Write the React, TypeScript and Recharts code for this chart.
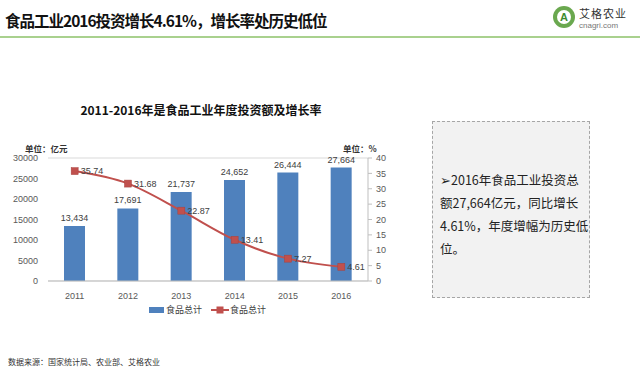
import React from 'react'
import {
  ComposedChart, Bar, Line, XAxis, YAxis, CartesianGrid, LabelList
} from 'recharts'

const YEARS = ['2011', '2012', '2013', '2014', '2015', '2016']
const INVEST = [13434, 17691, 21737, 24652, 26444, 27664]
const GROWTH = [35.74, 31.68, 22.87, 13.41, 7.27, 4.61]
const LEFT_TICKS = [0, 5000, 10000, 15000, 20000, 25000, 30000]
const RIGHT_TICKS = [0, 5, 10, 15, 20, 25, 30, 35, 40]
const NOTE_LINES = ['➢2016年食品工业投资总', '额27,664亿元，同比增长', '4.61%，年度增幅为历史低', '位。']

const BAR_COLOR = '#4f81bd'
const LINE_COLOR = '#c0504d'
const CJK = '"Noto Sans CJK SC", "Noto Sans", sans-serif'
const NUM = '"Liberation Sans", Arial, sans-serif'

const data = YEARS.map((y, i) => ({ year: y, invest: INVEST[i], growth: GROWTH[i] }))

const fmt = (v: number) => v.toLocaleString('en-US')

function SquareDot(props: any) {
  const { cx, cy } = props
  if (cx == null || cy == null) return null
  return <rect x={cx - 3.5} y={cy - 3.5} width={7} height={7} fill={LINE_COLOR} stroke="#a8423f" strokeWidth={0.5} />
}

export default function App() {
  const tick = { fontSize: 9, fill: '#595959', fontFamily: NUM }
  return (
    <div style={{ position: 'absolute', left: 0, top: 0, width: 640, height: 369, background: '#fff', overflow: 'hidden' }}>
      {/* header */}
      <div style={{ position: 'absolute', left: 5, top: 9, fontFamily: CJK, fontWeight: 700, fontSize: 15.5, color: '#111', whiteSpace: 'nowrap', letterSpacing: -1 }}>
        食品工业2016投资增长4.61%，增长率处历史低位
      </div>
      <div style={{ position: 'absolute', left: 0, top: 36, width: 640, height: 2, background: '#a9d18e' }} />
      {/* logo */}
      <div style={{ position: 'absolute', left: 553, top: 6, width: 22, height: 22, borderRadius: 11, background: '#6aa84f' }} />
      <div style={{ position: 'absolute', left: 557, top: 10, width: 14, height: 14, borderRadius: 7, background: '#fff', fontFamily: NUM, fontWeight: 700, fontSize: 11, color: '#3d8b2f', textAlign: 'center', lineHeight: '14px' }}>A</div>
      <div style={{ position: 'absolute', left: 579, top: 5, fontFamily: CJK, fontSize: 11, color: '#333', whiteSpace: 'nowrap', letterSpacing: 1 }}>艾格农业</div>
      <div style={{ position: 'absolute', left: 579, top: 21, fontFamily: NUM, fontSize: 8, color: '#777', whiteSpace: 'nowrap' }}>cnagri.com</div>

      {/* chart title */}
      <div style={{ position: 'absolute', left: 0, top: 101, width: 402, textAlign: 'center', fontFamily: CJK, fontWeight: 700, fontSize: 12, color: '#111', whiteSpace: 'nowrap' }}>
        2011-2016年是食品工业年度投资额及增长率
      </div>
      <div style={{ position: 'absolute', left: 25, top: 142, fontFamily: CJK, fontWeight: 700, fontSize: 8.5, color: '#333', whiteSpace: 'nowrap' }}>单位：亿元</div>
      <div style={{ position: 'absolute', left: 343, top: 142, fontFamily: CJK, fontWeight: 700, fontSize: 8.5, color: '#333', whiteSpace: 'nowrap' }}>单位：%</div>

      <div style={{ position: 'absolute', left: 0, top: 0 }}>
        <ComposedChart width={420} height={300} data={data} margin={{ top: 158, right: 22, bottom: 0, left: 8 }}>
          <CartesianGrid vertical={false} stroke="#d9d9d9" />
          <XAxis dataKey="year" height={19} tick={tick} tickLine={false} axisLine={{ stroke: '#bfbfbf' }} tickMargin={6} />
          <YAxis yAxisId="l" width={40} domain={[0, 30000]} ticks={LEFT_TICKS} tick={tick} axisLine={false} tickLine={false} tickMargin={4} />
          <YAxis yAxisId="r" orientation="right" width={30} domain={[0, 40]} ticks={RIGHT_TICKS} tick={tick} axisLine={{ stroke: '#bfbfbf' }} tickLine={{ stroke: '#bfbfbf' }} tickSize={4} tickMargin={4} />
          <Bar yAxisId="l" dataKey="invest" fill={BAR_COLOR} barSize={21} isAnimationActive={false}>
            <LabelList dataKey="invest" position="top" offset={5} formatter={(v: any) => fmt(Number(v))} style={{ fontSize: 9, fill: '#404040', fontFamily: NUM }} />
          </Bar>
          <Line yAxisId="r" dataKey="growth" type="monotone" stroke={LINE_COLOR} strokeWidth={2} dot={<SquareDot />} activeDot={false} isAnimationActive={false}>
            <LabelList dataKey="growth" position="right" offset={6} style={{ fontSize: 9, fill: '#404040', fontFamily: NUM }} />
          </Line>
        </ComposedChart>
      </div>

      {/* legend */}
      <div style={{ position: 'absolute', left: 149, top: 303, display: 'flex', alignItems: 'center', fontFamily: CJK, fontSize: 9, color: '#404040', whiteSpace: 'nowrap' }}>
        <span style={{ display: 'inline-block', width: 15, height: 6, background: BAR_COLOR, marginRight: 2 }} />
        <span>食品总计</span>
        <svg width={18} height={10} style={{ marginLeft: 9, marginRight: 1 }}>
          <line x1={0} y1={5} x2={18} y2={5} stroke={LINE_COLOR} strokeWidth={2} />
          <rect x={5.5} y={1.5} width={7} height={7} fill={LINE_COLOR} />
        </svg>
        <span>食品总计</span>
      </div>

      {/* note box */}
      <div style={{ position: 'absolute', left: 432, top: 121, width: 156, height: 175, background: '#f2f2f2', border: '1px dashed #a6a6a6' }}>
        <div style={{ position: 'absolute', left: 7, top: 46, fontFamily: CJK, fontSize: 12.5, lineHeight: '23px', color: '#222', whiteSpace: 'nowrap' }}>
          {NOTE_LINES.map((l, i) => <div key={i}>{l}</div>)}
        </div>
      </div>

      {/* source */}
      <div style={{ position: 'absolute', left: 8, top: 356, fontFamily: CJK, fontSize: 8, color: '#333', whiteSpace: 'nowrap' }}>
        数据来源：国家统计局、农业部、艾格农业
      </div>
    </div>
  )
}
